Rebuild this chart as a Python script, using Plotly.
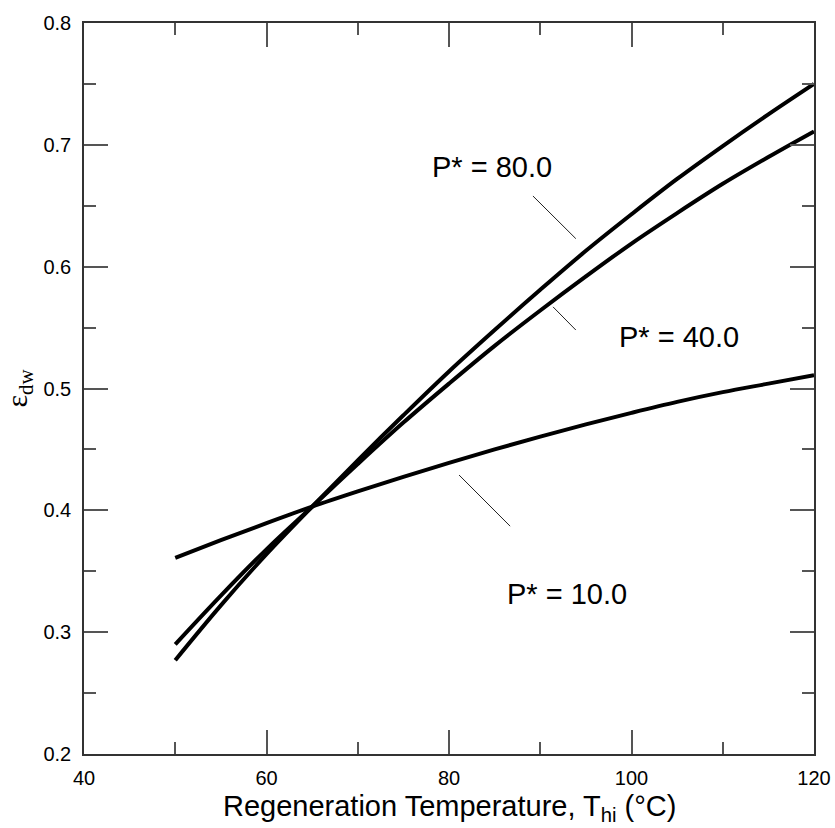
import plotly.graph_objects as go

# Data
temps = [50, 55, 60, 65, 70, 75, 80, 85, 90, 95, 100, 105, 110, 115, 120]
eps_p80 = [0.277, 0.322, 0.364, 0.403, 0.441, 0.478, 0.514, 0.548, 0.581, 0.613, 0.643, 0.672, 0.699, 0.725, 0.750]
eps_p40 = [0.290, 0.330, 0.368, 0.403, 0.438, 0.472, 0.504, 0.535, 0.564, 0.592, 0.619, 0.644, 0.668, 0.690, 0.711]
eps_p10 = [0.361, 0.3755, 0.3895, 0.403, 0.4155, 0.4275, 0.439, 0.450, 0.4605, 0.4705, 0.480, 0.489, 0.497, 0.504, 0.511]

labels = ["P* = 80.0", "P* = 40.0", "P* = 10.0"]
label_x = [84.7, 105.2, 92.9]
label_y = [0.682, 0.542, 0.331]
# leader lines (x0, y0, x1, y1) in data units
leader_x0 = [89.2, 91.4, 81.1]
leader_y0 = [0.658, 0.567, 0.429]
leader_x1 = [93.9, 93.9, 86.7]
leader_y1 = [0.623, 0.548, 0.387]

x_title = "Regeneration Temperature, T<sub>hi</sub> (°C)"
y_title = "ε<sub>dw</sub>"

fig = go.Figure()
for ys in (eps_p80, eps_p40, eps_p10):
    fig.add_trace(go.Scatter(x=temps, y=ys, mode="lines",
                             line=dict(color="black", width=4, shape="spline"),
                             showlegend=False, hoverinfo="skip"))

sans = "Liberation Sans, Arial"
for i in range(3):
    fig.add_annotation(x=label_x[i], y=label_y[i], text=labels[i], showarrow=False,
                       xref="x", yref="y", font=dict(size=29, color="black", family=sans))
    fig.add_shape(type="line", xref="x", yref="y",
                  x0=leader_x0[i], y0=leader_y0[i], x1=leader_x1[i], y1=leader_y1[i],
                  line=dict(color="#222", width=1))

fig.add_annotation(x=0.5, y=0, xref="paper", yref="paper", xanchor="center", yanchor="middle",
                   yshift=-54, text=x_title, showarrow=False,
                   font=dict(size=29, color="black", family=sans))
fig.add_annotation(x=0, y=0.5, xref="paper", yref="paper", xanchor="center", yanchor="middle",
                   xshift=-66, text=y_title, showarrow=False, textangle=-90,
                   font=dict(size=30, color="black", family="Liberation Serif, Times New Roman"))

axis_common = dict(showline=True, linecolor="#333", linewidth=1.5, mirror="allticks",
                   ticks="inside", ticklen=24, tickwidth=1.5, tickcolor="#555",
                   showgrid=False, zeroline=False, automargin=False,
                   tickfont=dict(size=20, color="black", family=sans))

fig.update_xaxes(range=[40, 120], tick0=40, dtick=20,
                 minor=dict(dtick=10, ticklen=12, ticks="inside", tickcolor="#555", tickwidth=1.5, showgrid=False),
                 ticklabelstandoff=5,
                 **axis_common)
fig.update_yaxes(range=[0.2, 0.8], tick0=0.2, dtick=0.1, tickformat=".1f",
                 minor=dict(dtick=0.05, ticklen=12, ticks="inside", tickcolor="#555", tickwidth=1.5, showgrid=False),
                 ticklabelstandoff=7,
                 **axis_common)

fig.update_layout(width=835, height=828, plot_bgcolor="white", paper_bgcolor="white",
                  margin=dict(l=84, r=21, t=23, b=74))

fig.write_html("out.html", config={"displayModeBar": False},
               post_script="document.body.style.margin='0';")
